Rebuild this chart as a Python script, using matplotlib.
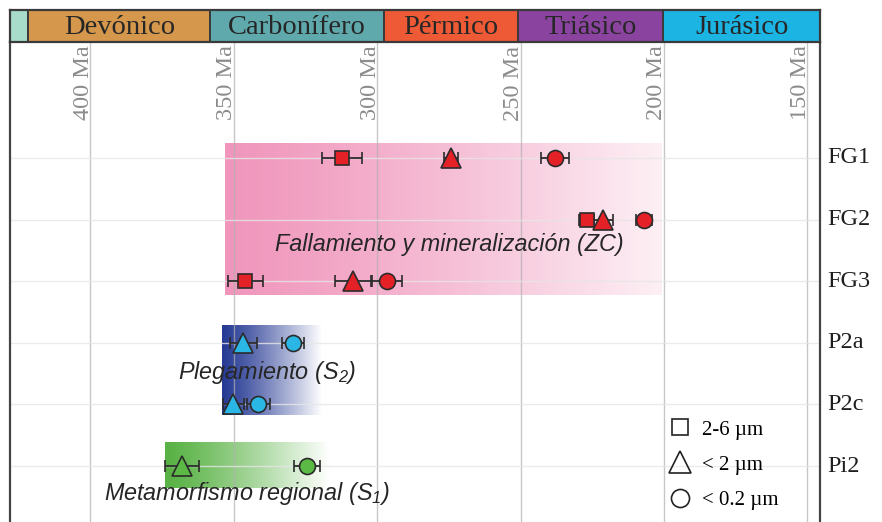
import matplotlib
matplotlib.use("Agg")
import matplotlib.pyplot as plt
import numpy as np
from matplotlib.lines import Line2D

plt.rcParams["mathtext.fontset"] = "custom"
plt.rcParams["mathtext.rm"] = "Liberation Sans:italic"
plt.rcParams["mathtext.it"] = "Liberation Sans:italic"

# geologic periods (Ma) for the header strip
periods = ["", "Devónico", "Carbonífero", "Pérmico", "Triásico", "Jurásico"]
period_start = [428.0, 421.6, 358.1, 297.6, 250.9, 200.2]
period_end = [421.6, 358.1, 297.6, 250.9, 200.2, 145.6]
period_colors = ["#a6dcc9", "#d4974c", "#5fa9ad", "#ee5a35", "#8a44a0", "#1cb4e3"]

age_ticks = [400, 350, 300, 250, 200, 150]

samples = ["FG1", "FG2", "FG3", "P2a", "P2c", "Pi2"]
sample_colors = ["#e42127", "#e42127", "#e42127", "#2bb7e6", "#2bb7e6", "#5bba46"]

# K-Ar ages by grain size fraction (Ma) and errors
sq_samples = ["FG1", "FG2", "FG3"]
sq_age = [312.3, 227.0, 346.0]
sq_err = [6.9, 2.7, 6.1]

tri_samples = ["FG1", "FG2", "FG3", "P2a", "P2c", "Pi2"]
tri_age = [274.3, 221.3, 308.4, 346.6, 350.1, 368.0]
tri_err = [2.5, 3.4, 6.4, 4.8, 3.7, 5.8]

circ_samples = ["FG1", "FG2", "FG3", "P2a", "P2c", "Pi2"]
circ_age = [238.0, 207.0, 296.6, 329.2, 341.4, 324.5]
circ_err = [5.0, 2.7, 5.2, 3.8, 4.1, 4.6]

# event bands: age range and row range
band_names = ["Fallamiento y mineralización (ZC)", "Plegamiento (S$_2$)",
              "Metamorfismo regional (S$_1$)"]
band_old = [353.0, 354.1, 373.9]
band_young = [200.7, 319.3, 316.4]
band_top = [-0.24, 2.73, 4.62]
band_bottom = [2.22, 4.18, 5.36]
band_left_rgb = [(240, 150, 188), (38, 58, 148), (88, 178, 68)]
band_right_rgb = [(253, 240, 245), (255, 255, 255), (255, 255, 255)]
label_age = [274.9, 338.3, 345.5]
label_row = [1.41, 3.49, 5.44]

fig = plt.figure(figsize=(8.82, 5.22), dpi=100)
ax = fig.add_axes([10 / 882, 0, 810 / 882, 480 / 522])
axh = fig.add_axes([10 / 882, 480 / 522, 810 / 882, 32 / 522])

xlim = (428.0, 145.6)
ylim = (5.909, -1.883)

# gradient bands
for i in range(len(band_names)):
    t = np.linspace(0, 1, 256) ** 1.2
    c0 = np.array(band_left_rgb[i]) / 255
    c1 = np.array(band_right_rgb[i]) / 255
    grad = (c0[None, :] * (1 - t[:, None]) + c1[None, :] * t[:, None])[None, :, :]
    ax.imshow(grad, extent=[band_old[i], band_young[i], band_bottom[i], band_top[i]],
              aspect="auto", interpolation="bilinear", zorder=1)

# grid lines
for a in age_ticks:
    ax.axvline(a, color="#b0b0b0", lw=1.0, alpha=0.7, zorder=2)
for r in range(len(samples)):
    ax.axhline(r, color="#e6e6e6", lw=1.0, alpha=0.8, zorder=2)

row_of = {s: i for i, s in enumerate(samples)}
col_of = {s: c for s, c in zip(samples, sample_colors)}

def draw(names, ages, errs, marker, ms):
    for s, a, e in zip(names, ages, errs):
        ax.errorbar(a, row_of[s], xerr=e, fmt=marker, ms=ms, mfc=col_of[s],
                    mec="#2b2b2b", mew=1.2, ecolor="#2b2b2b", elinewidth=1.3,
                    capsize=4.5, capthick=1.3, zorder=5)

draw(sq_samples, sq_age, sq_err, "s", 10)
draw(tri_samples, tri_age, tri_err, "^", 14)
draw(circ_samples, circ_age, circ_err, "o", 11.5)

for i, name in enumerate(band_names):
    ax.text(label_age[i], label_row[i], name, fontsize=16.8, style="italic",
            family="Liberation Sans", color="#262626", ha="center", va="center",
            zorder=6)

# age labels
for a in age_ticks:
    ax.annotate(f"{a} Ma", xy=(a, 1), xycoords=("data", "axes fraction"),
                xytext=(2.5, -2.5), textcoords="offset points", rotation=90,
                ha="right", va="top", fontsize=17.5, family="Liberation Serif",
                color="#8c8c8c")

# sample labels on the right
for i, s in enumerate(samples):
    ax.text(1.009, i, s, transform=ax.get_yaxis_transform(), fontsize=17.5,
            family="Liberation Serif", color="#1e1e1e", ha="left", va="center",
            clip_on=False)

ax.set_xlim(xlim)
ax.set_ylim(ylim)
ax.set_xticks([])
ax.set_yticks([])
for side in ["top", "bottom"]:
    ax.spines[side].set_visible(False)
for side in ["left", "right"]:
    ax.spines[side].set_color("#444444")
    ax.spines[side].set_linewidth(1.6)

# legend
handles = [Line2D([], [], marker="s", ls="none", mfc="none", mec="#222222", mew=1.2, ms=11),
           Line2D([], [], marker="^", ls="none", mfc="none", mec="#222222", mew=1.2, ms=16),
           Line2D([], [], marker="o", ls="none", mfc="none", mec="#222222", mew=1.2, ms=13)]
ax.legend(handles, ["2-6 µm", "< 2 µm", "< 0.2 µm"], loc="upper left",
          bbox_to_anchor=((667 - 10) / 810, (522 - 420) / 480), frameon=False,
          prop={"family": "Liberation Serif", "size": 15}, handlelength=1.2,
          handletextpad=0.5, labelspacing=0.75, borderpad=0, borderaxespad=0)

# header strip
for name, a0, a1, c in zip(periods, period_start, period_end, period_colors):
    axh.barh(0.5, a1 - a0, left=a0, height=1, color=c, edgecolor="#3a3a3a", lw=1.4)
    if name:
        axh.text((a0 + a1) / 2, 0.45, name, fontsize=20.5, family="Liberation Serif",
                 color="#262626", ha="center", va="center")
axh.set_xlim(xlim)
axh.set_ylim(0, 1)
axh.set_xticks([])
axh.set_yticks([])
for sp in axh.spines.values():
    sp.set_color("#3a3a3a")
    sp.set_linewidth(1.6)

fig.savefig("out.png", dpi=100)
